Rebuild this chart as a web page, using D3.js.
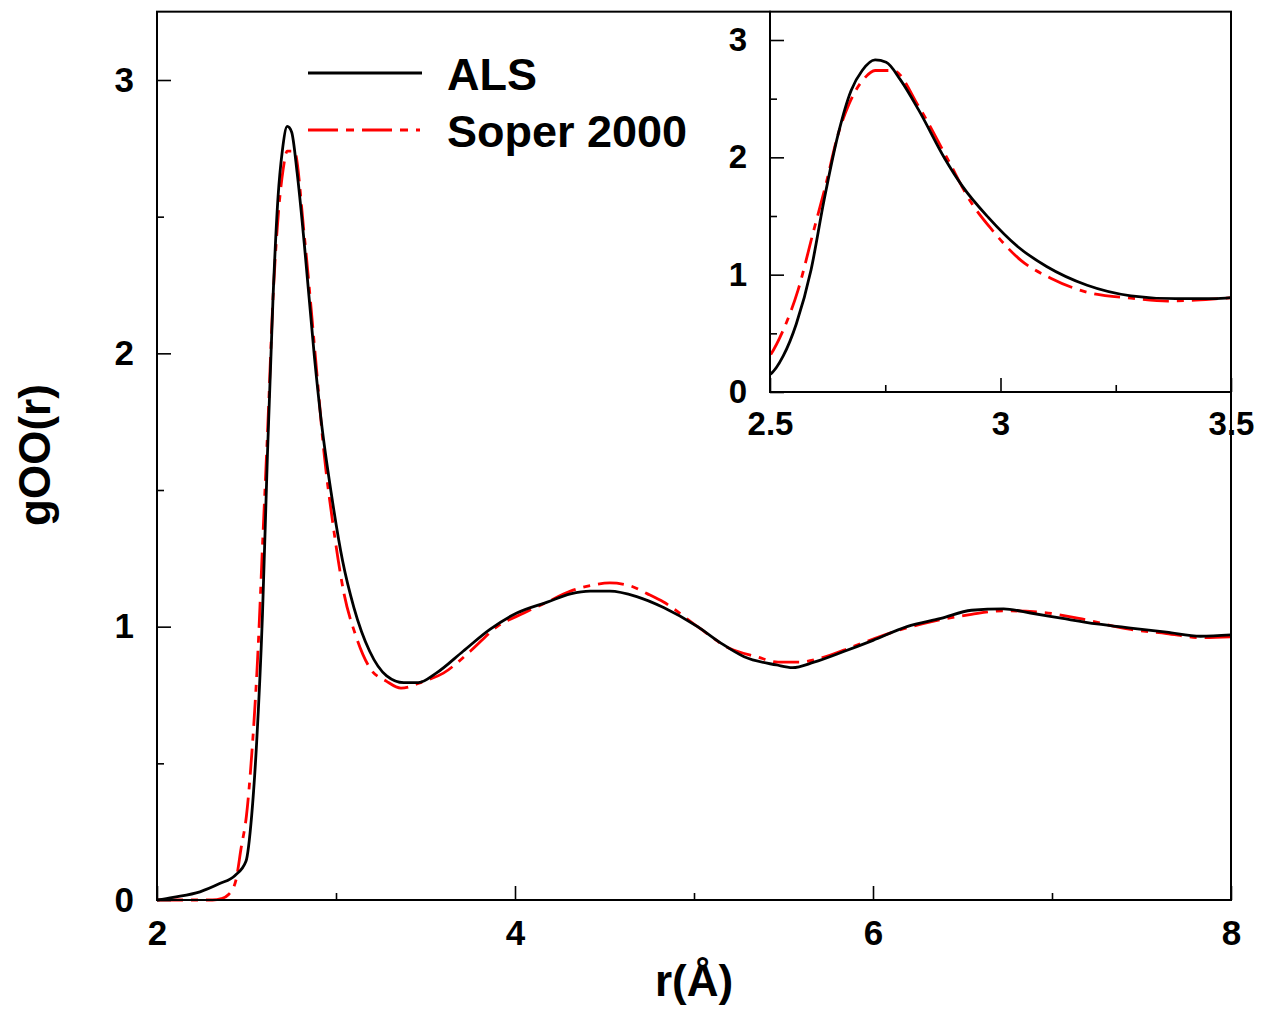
<!DOCTYPE html>
<html>
<head>
<meta charset="utf-8">
<script src="https://cdn.jsdelivr.net/npm/d3@7"></script>
<style>
body { margin: 0; background: #fff; }
text { font-family: "Liberation Sans", Arial, sans-serif; font-weight: bold; fill: #000; }
</style>
</head>
<body>
<script>
// ALS curve
var alsR = [2.0, 2.09, 2.24, 2.35, 2.436, 2.497, 2.529, 2.557, 2.589, 2.617, 2.648, 2.676, 2.70, 2.728, 2.752, 2.783, 2.823, 2.879, 2.918, 2.973, 3.037, 3.10, 3.188, 3.283, 3.379, 3.46, 3.56, 3.71, 3.86, 4.01, 4.18, 4.31, 4.42, 4.53, 4.68, 4.83, 5.02, 5.15, 5.28, 5.46, 5.55, 5.67, 5.84, 6.0, 6.19, 6.38, 6.55, 6.73, 6.88, 7.06, 7.25, 7.44, 7.64, 7.83, 8.0];
var alsG = [0, 0.01, 0.03, 0.06, 0.09, 0.142, 0.31, 0.58, 1.04, 1.63, 2.20, 2.57, 2.74, 2.83, 2.81, 2.66, 2.40, 1.99, 1.75, 1.49, 1.24, 1.07, 0.91, 0.82, 0.795, 0.795, 0.83, 0.91, 0.99, 1.05, 1.09, 1.12, 1.13, 1.13, 1.11, 1.07, 1.00, 0.94, 0.89, 0.86, 0.85, 0.87, 0.91, 0.95, 1.00, 1.03, 1.06, 1.065, 1.05, 1.03, 1.01, 0.995, 0.98, 0.965, 0.97];

// Soper 2000 curve
var soperR = [2.0, 2.31, 2.36, 2.40, 2.44, 2.47, 2.5, 2.529, 2.561, 2.593, 2.620, 2.648, 2.672, 2.704, 2.728, 2.767, 2.823, 2.886, 2.934, 2.982, 3.045, 3.109, 3.188, 3.283, 3.363, 3.49, 3.60, 3.75, 3.90, 4.05, 4.18, 4.31, 4.42, 4.53, 4.64, 4.74, 4.83, 5.02, 5.20, 5.35, 5.47, 5.59, 5.71, 5.90, 6.11, 6.34, 6.55, 6.73, 6.92, 7.15, 7.44, 7.64, 7.83, 8.0];
var soperG = [0, 0, 0.005, 0.02, 0.07, 0.19, 0.31, 0.53, 0.87, 1.35, 1.75, 2.20, 2.46, 2.67, 2.74, 2.74, 2.43, 1.98, 1.63, 1.38, 1.12, 0.97, 0.85, 0.80, 0.775, 0.80, 0.83, 0.91, 1.00, 1.05, 1.09, 1.13, 1.15, 1.16, 1.15, 1.12, 1.09, 1.00, 0.92, 0.89, 0.87, 0.87, 0.885, 0.93, 0.98, 1.02, 1.045, 1.058, 1.054, 1.03, 0.99, 0.975, 0.96, 0.963];

var seriesNames = ["ALS", "Soper 2000"];

var xMajor = [2, 4, 6, 8], xMinor = [3, 5, 7];
var yMajor = [0, 1, 2, 3], yMinor = [0.5, 1.5, 2.5];
var ixMajor = [2.5, 3, 3.5], ixMinor = [2.75, 3.25];

var als = alsR.map(function(r, i) { return [r, alsG[i]]; });
var soper = soperR.map(function(r, i) { return [r, soperG[i]]; });

var W = 1273, H = 1013;
var svg = d3.select("body").append("svg").attr("width", W).attr("height", H);

// main plot
var x = d3.scaleLinear().domain([2, 8]).range([157, 1231]);
var y = d3.scaleLinear().domain([0, 3]).range([900, 80]);

var line = d3.line()
	.curve(d3.curveMonotoneX)
	.x(function(d) { return x(d[0]); })
	.y(function(d) { return y(d[1]); });

svg.append("path").datum(soper)
	.attr("d", line).attr("fill", "none")
	.attr("stroke", "#ff0000").attr("stroke-width", 2.8)
	.attr("stroke-dasharray", "26,8,7,8");
svg.append("path").datum(als)
	.attr("d", line).attr("fill", "none")
	.attr("stroke", "#000").attr("stroke-width", 2.8);

function styleAxis(g, size) {
	g.select(".domain").remove();
	g.selectAll(".tick line").attr("stroke", "#000").attr("stroke-width", 1.6);
	g.selectAll("text").style("font-size", size + "px").attr("fill", "#000");
}

svg.append("g").attr("transform", "translate(0,900)")
	.call(d3.axisBottom(x).tickValues(xMajor).tickSize(-14).tickPadding(20).tickFormat(d3.format("d")))
	.call(styleAxis, 35);
svg.append("g").attr("transform", "translate(0,900)")
	.call(d3.axisBottom(x).tickValues(xMinor).tickSize(-7).tickFormat(""))
	.call(styleAxis, 35);
svg.append("g").attr("transform", "translate(157,0)")
	.call(d3.axisLeft(y).tickValues(yMajor).tickSize(-14).tickPadding(23).tickFormat(d3.format("d")))
	.call(styleAxis, 35);
svg.append("g").attr("transform", "translate(157,0)")
	.call(d3.axisLeft(y).tickValues(yMinor).tickSize(-7).tickFormat(""))
	.call(styleAxis, 35);

// axis titles
svg.append("text")
	.attr("transform", "translate(50,455)rotate(-90)")
	.attr("text-anchor", "middle")
	.style("font-size", "44px")
	.text("gOO(r)");
svg.append("text")
	.attr("x", 694).attr("y", 996)
	.attr("text-anchor", "middle")
	.style("font-size", "44px")
	.text("r(\u00C5)");

// legend
var legend = svg.append("g");
legend.append("line").attr("x1", 308).attr("x2", 422).attr("y1", 73).attr("y2", 73)
	.attr("stroke", "#000").attr("stroke-width", 2.8);
legend.append("line").attr("x1", 308).attr("x2", 420).attr("y1", 130).attr("y2", 130)
	.attr("stroke", "#ff0000").attr("stroke-width", 2.8).attr("stroke-dasharray", "30,8,8,8");
legend.append("text").attr("x", 447).attr("y", 90).style("font-size", "45px").text(seriesNames[0]);
legend.append("text").attr("x", 447).attr("y", 147).style("font-size", "45px").text(seriesNames[1]);

// inset
var xi = d3.scaleLinear().domain([2.5, 3.5]).range([770, 1231]);
var yi = d3.scaleLinear().domain([0, 3]).range([392, 40]);

svg.append("rect").attr("x", 770).attr("y", yi(3.25))
	.attr("width", 1231 - 770).attr("height", 392 - yi(3.25)).attr("fill", "#fff");

svg.append("clipPath").attr("id", "insetClip").append("rect")
	.attr("x", 770).attr("y", yi(3.25)).attr("width", 1231 - 770).attr("height", 392 - yi(3.25));

var lineI = d3.line()
	.curve(d3.curveMonotoneX)
	.x(function(d) { return xi(d[0]); })
	.y(function(d) { return yi(d[1]); });

var gi = svg.append("g").attr("clip-path", "url(#insetClip)");
gi.append("path").datum(soper)
	.attr("d", lineI).attr("fill", "none")
	.attr("stroke", "#ff0000").attr("stroke-width", 2.8)
	.attr("stroke-dasharray", "26,8,7,8");
gi.append("path").datum(als)
	.attr("d", lineI).attr("fill", "none")
	.attr("stroke", "#000").attr("stroke-width", 2.8);

svg.append("g").attr("transform", "translate(0,392)")
	.call(d3.axisBottom(xi).tickValues(ixMajor).tickSize(-14).tickPadding(20).tickFormat(d3.format("")))
	.call(styleAxis, 33);
svg.append("g").attr("transform", "translate(0,392)")
	.call(d3.axisBottom(xi).tickValues(ixMinor).tickSize(-7).tickFormat(""))
	.call(styleAxis, 33);
svg.append("g").attr("transform", "translate(770,0)")
	.call(d3.axisLeft(yi).tickValues(yMajor).tickSize(-14).tickPadding(23).tickFormat(d3.format("d")))
	.call(styleAxis, 33);
svg.append("g").attr("transform", "translate(770,0)")
	.call(d3.axisLeft(yi).tickValues(yMinor).tickSize(-7).tickFormat(""))
	.call(styleAxis, 33);

// frames
svg.append("path")
	.attr("d", "M770," + yi(3.25) + "V392H1231")
	.attr("fill", "none").attr("stroke", "#000").attr("stroke-width", 2);
svg.append("rect")
	.attr("x", 157).attr("y", y(3.25))
	.attr("width", 1231 - 157).attr("height", 900 - y(3.25))
	.attr("fill", "none").attr("stroke", "#000").attr("stroke-width", 2);
</script>
</body>
</html>
